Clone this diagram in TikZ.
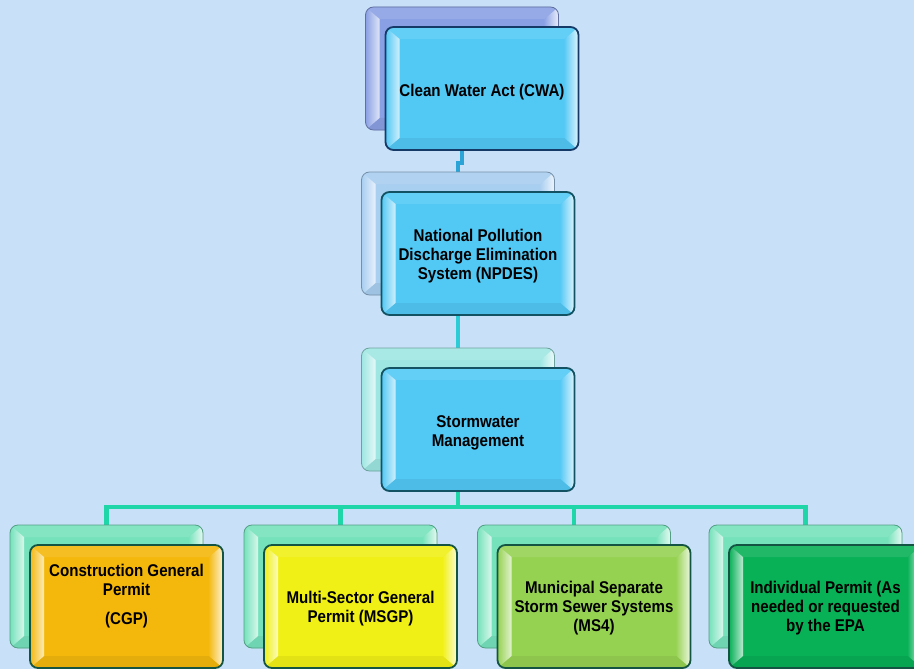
\documentclass[tikz,border=0pt]{standalone}
\usepackage{fontspec}
\setmainfont{Liberation Sans}[FakeStretch=0.89]
\usetikzlibrary{calc}

\definecolor{pagebg}{RGB}{201,225,248}
\definecolor{cwaBack}{RGB}{138,160,228}
\definecolor{npdesBack}{RGB}{168,206,240}
\definecolor{stormBack}{RGB}{158,230,226}
\definecolor{permitBack}{RGB}{118,226,188}
\definecolor{sky}{RGB}{82,200,245}
\definecolor{navyEdge}{RGB}{22,58,104}
\definecolor{tealEdge}{RGB}{18,82,98}
\definecolor{greenEdge}{RGB}{20,84,66}
\definecolor{cgpFill}{RGB}{244,184,12}
\definecolor{msgpFill}{RGB}{240,240,22}
\definecolor{msFill}{RGB}{150,210,82}
\definecolor{indFill}{RGB}{8,176,86}
\definecolor{linkTop}{RGB}{42,164,214}
\definecolor{linkMid}{RGB}{44,204,214}
\definecolor{linkLow}{RGB}{30,214,168}

\pgfdeclarelayer{canvas}
\pgfdeclarelayer{links}
\pgfsetlayers{canvas,links,main}

\tikzset{
  panel/.style={rounded corners=8pt, minimum width=193pt, minimum height=123pt,
    inner sep=0pt, outer sep=0pt},
  backpanel/.style={panel, line width=0.8pt},
  frontpanel/.style={panel, line width=1.8pt},
  caption/.style={font=\fontsize{17}{19}\selectfont\bfseries, align=center,
    text=black, inner sep=0pt},
  link/.style={line width=4.5pt},
}

% bevelled face: faint top and bottom bands, glossy side strips
\newcommand\bevel[3]{% node, face colour, edge style
  \begin{scope}
    \clip[rounded corners=8pt] (#1.north west) rectangle (#1.south east);
    \fill[#2!90!white] (#1.north west) -- (#1.north east)
      -- ($(#1.north east)+(-14,12)$) -- ($(#1.north west)+(14,12)$) -- cycle;
    \fill[#2!94!black] (#1.south west) -- (#1.south east)
      -- ($(#1.south east)+(-14,-12)$) -- ($(#1.south west)+(14,-12)$) -- cycle;
    \shade[left color=#2, right color=white!72!#2]
      (#1.north west) -- ($(#1.north west)+(14,12)$)
      -- ($(#1.south west)+(14,-12)$) -- (#1.south west) -- cycle;
    \shade[left color=#2!95!white, right color=white!82!#2]
      (#1.north east) -- ($(#1.north east)+(-14,12)$)
      -- ($(#1.south east)+(-14,-12)$) -- (#1.south east) -- cycle;
  \end{scope}
  \draw[#3, rounded corners=8pt] (#1.north west) rectangle (#1.south east);
}

% a shaded back card with a bevelled front card and its caption
\newcommand\panelpair[7]{%
  \node[backpanel, fill=#3] (#1b) at ($(#2)+(-20,-20)$) {};
  \bevel{#1b}{#3}{#3!70!black, line width=0.8pt}
  \node[frontpanel, fill=#4] (#1) at (#2) {};
  \bevel{#1}{#4}{#5, line width=1.8pt}
  \node[caption] (#1t) at ($(#1.center)+(0,#7)$) {#6};
}

\begin{document}
\begin{tikzpicture}[x=1pt, y=-1pt]
  \useasboundingbox (0,0) rectangle (914,669);
  \begin{pgfonlayer}{canvas}
    \fill[pagebg] (0,0) rectangle (914,669);
  \end{pgfonlayer}
  \clip (0,0) rectangle (914,669);

  \panelpair{cwa}{482,88.5}{cwaBack}{sky}{navyEdge}{Clean Water Act (CWA)}{4}
  \panelpair{npdes}{478,253.5}{npdesBack}{sky}{tealEdge}%
    {National Pollution\\Discharge Elimination\\System (NPDES)}{3}
  \panelpair{storm}{478,429.5}{stormBack}{sky}{tealEdge}%
    {Stormwater\\Management}{3}

  \panelpair{cgp}{126.5,606.5}{permitBack}{cgpFill}{greenEdge}%
    {Construction General\\Permit\\[10pt](CGP)}{-10}
  \panelpair{msgp}{360.5,606.5}{permitBack}{msgpFill}{greenEdge}%
    {Multi-Sector General\\Permit (MSGP)}{2}
  \panelpair{msfour}{594,606.5}{permitBack}{msFill}{greenEdge}%
    {Municipal Separate\\Storm Sewer Systems\\(MS4)}{2}
  \panelpair{indiv}{825.5,606.5}{permitBack}{indFill}{greenEdge}%
    {Individual Permit (As\\needed or requested\\by the EPA}{2}

  \begin{pgfonlayer}{links}
    \draw[link, linkTop] (cwab.south) -- ++(0,33) -| (npdesb.north);
    \draw[link, linkMid] (npdesb.south) -- (stormb.north);
    \draw[link, linkLow] (stormb.south) -- ++(0,36) coordinate (bus);
    \draw[link, linkLow] (cgpb.north) |- (bus) -| (indivb.north);
    \draw[link, linkLow] (bus) -| (msgpb.north);
    \draw[link, linkLow] (bus) -| (msfourb.north);
  \end{pgfonlayer}
\end{tikzpicture}
\end{document}
